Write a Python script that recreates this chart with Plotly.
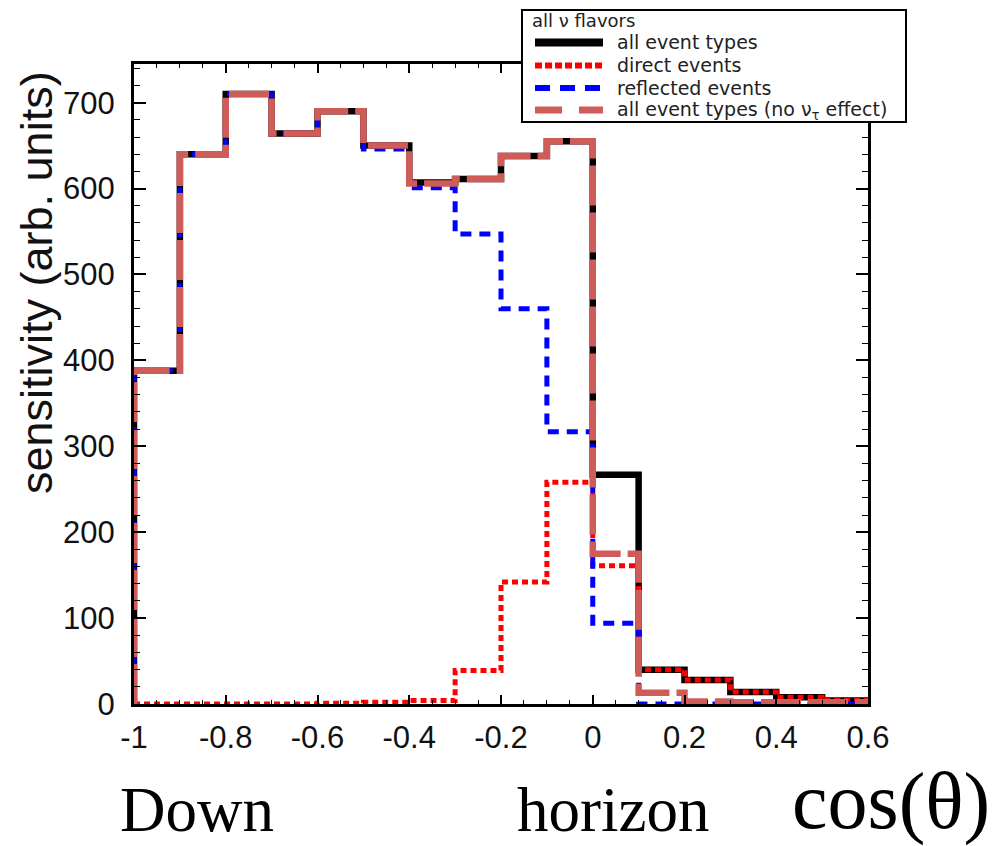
import plotly.graph_objects as go

# ---------------- data ----------------
bin_edges = [-1.0, -0.9, -0.8, -0.7, -0.6, -0.5, -0.4, -0.3, -0.2, -0.1,
             0.0, 0.1, 0.2, 0.3, 0.4, 0.5, 0.6]
all_event_types = [388, 640, 710, 664, 690, 650, 607, 611, 638, 655,
                   267, 40, 28, 14, 8, 4]
direct_events = [0, 0, 0, 0, 1, 2, 4, 39, 142, 258,
                 161, 40, 28, 14, 8, 4]
reflected_events = [388, 640, 710, 664, 690, 646, 601, 547, 460, 317,
                    94, 0, 0, 0, 0, 0]
all_no_nutau = [388, 640, 710, 664, 690, 650, 606, 611, 638, 655,
                175, 13, 3, 2, 2, 2]

x_ticks = [-1, -0.8, -0.6, -0.4, -0.2, 0, 0.2, 0.4, 0.6]
x_tick_text = ["-1", "-0.8", "-0.6", "-0.4", "-0.2", "0", "0.2", "0.4", "0.6"]
y_ticks = [0, 100, 200, 300, 400, 500, 600, 700]

legend_title = "all \u03bd flavors"
legend_labels = ["all event types", "direct events", "reflected events",
                 "all event types (no \u03bd<sub>\u03c4</sub> effect)"]
y_title = "sensitivity (arb. units)"

# ---------------- geometry helpers (layout only) ----------------
W, H = 1005, 846
L, R, T, B = 134, 137, 64, 142
PW, PH = W - L - R, H - T - B


def px(x):
    return (x - L) / PW


def py(y):
    return (H - B - y) / PH


def step_xy(values):
    xs = [bin_edges[0]] + list(bin_edges)
    ys = [0] + list(values) + [values[-1]]
    return xs, ys


styles = [
    dict(color="#000000", width=6.5, dash="solid"),
    dict(color="#ff0000", width=5, dash="6px,4px"),
    dict(color="#0000ff", width=5, dash="11px,8px"),
    dict(color="#d05c5a", width=6.5, dash="40px,7px"),
]
series = [all_event_types, direct_events, reflected_events, all_no_nutau]

fig = go.Figure()
for vals, st, name in zip(series, styles, legend_labels):
    xs, ys = step_xy(vals)
    fig.add_trace(go.Scatter(x=xs, y=ys, mode="lines", line_shape="hv",
                             line=st, name=name, showlegend=False,
                             hoverinfo="skip"))

sans = "Liberation Sans, Arial, sans-serif"
legfont = "DejaVu Sans, Liberation Sans, sans-serif"
tickfont = dict(family=sans, size=31, color="#111")

fig.update_layout(
    width=W, height=H,
    margin=dict(l=L, r=R, t=T, b=B, autoexpand=False),
    paper_bgcolor="white", plot_bgcolor="white",
    showlegend=False,
    xaxis=dict(range=[-1, 0.6], tickvals=x_ticks, ticktext=x_tick_text,
               ticks="inside", ticklen=9, tickwidth=1.5, tickcolor="black",
               showline=True, linewidth=3, linecolor="black", mirror="ticks",
               showgrid=False, zeroline=False, tickfont=tickfont,
               ticklabelstandoff=4,
               minor=dict(dtick=0.05, ticks="inside", ticklen=4,
                          tickwidth=1.2, tickcolor="black", showgrid=False)),
    yaxis=dict(range=[0, 745], tickvals=y_ticks,
               ticks="inside", ticklen=12, tickwidth=1.5, tickcolor="black",
               showline=True, linewidth=3, linecolor="black", mirror="ticks",
               showgrid=False, zeroline=False, tickfont=tickfont,
               ticklabelstandoff=10,
               minor=dict(dtick=20, ticks="inside", ticklen=6,
                          tickwidth=1.2, tickcolor="black", showgrid=False)),
)

# ---------------- legend box (drawn manually) ----------------
shapes = [dict(type="rect", xref="paper", yref="paper",
               x0=px(522), x1=px(906), y0=py(122), y1=py(10),
               line=dict(color="black", width=2), fillcolor="white",
               layer="above")]
row_y = [42.5, 65.5, 88, 110]
legend_styles = [
    dict(color="#000000", width=8, dash="solid"),
    dict(color="#ff0000", width=6, dash="7px,3px"),
    dict(color="#0000ff", width=6, dash="15px,10px"),
    dict(color="#d05c5a", width=7, dash="27px,17px"),
]
annotations = [dict(text=legend_title, xref="paper", yref="paper",
                    x=px(530), y=py(20.5), xanchor="left", yanchor="middle",
                    showarrow=False,
                    font=dict(family=legfont, size=18, color="#222"))]
for ry, st, lab in zip(row_y, legend_styles, legend_labels):
    shapes.append(dict(type="line", xref="paper", yref="paper",
                       x0=px(535), x1=px(603), y0=py(ry), y1=py(ry),
                       line=st, layer="above"))
    annotations.append(dict(text=lab, xref="paper", yref="paper",
                            x=px(615), y=py(ry), xanchor="left",
                            yanchor="middle", showarrow=False,
                            font=dict(family=legfont, size=19, color="#222")))

serif = "Liberation Serif, Times New Roman, serif"
annotations += [
    dict(text=y_title, xref="paper", yref="paper", x=px(36), y=py(283),
         xanchor="center", yanchor="middle", textangle=-90, showarrow=False,
         font=dict(family=sans, size=45, color="#111")),
    dict(text="Down", xref="paper", yref="paper", x=px(118), y=py(810),
         xanchor="left", yanchor="middle", showarrow=False,
         font=dict(family=serif, size=63, color="black")),
    dict(text="horizon", xref="paper", yref="paper", x=px(515), y=py(810),
         xanchor="left", yanchor="middle", showarrow=False,
         font=dict(family=serif, size=63, color="black")),
    dict(text="cos(\u03b8)", xref="paper", yref="paper", x=px(790), y=py(801),
         xanchor="left", yanchor="middle", showarrow=False,
         font=dict(family=serif, size=80, color="black")),
]

fig.update_layout(shapes=shapes, annotations=annotations)
fig.write_html("out.html")
